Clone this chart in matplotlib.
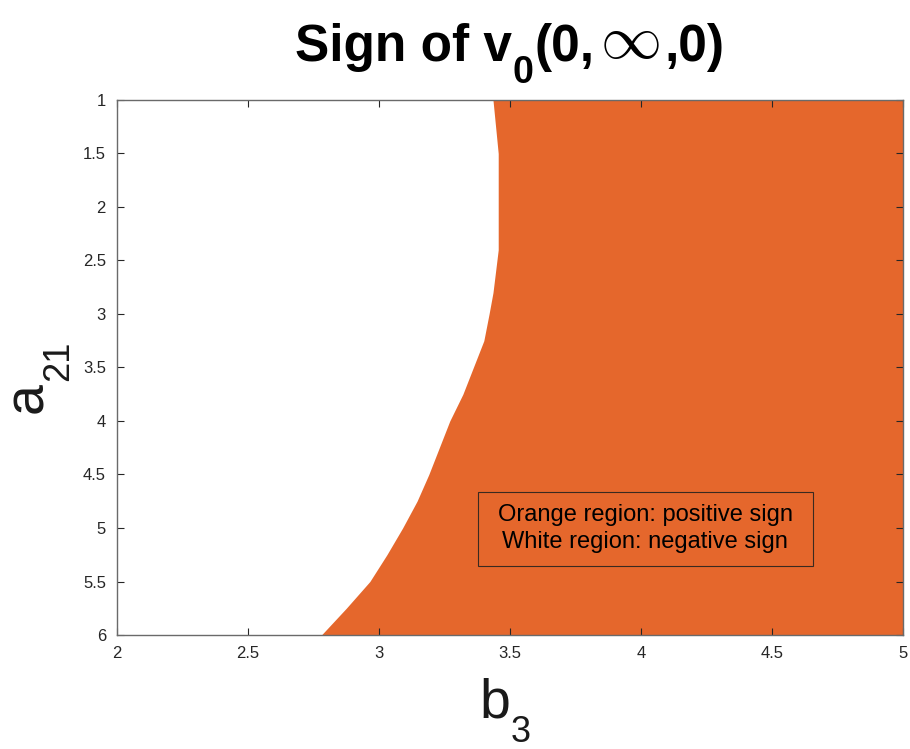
import numpy as np
import matplotlib.pyplot as plt
from matplotlib.patches import Rectangle
from matplotlib.ticker import FuncFormatter

plt.rcParams["font.family"] = ["Liberation Sans", "DejaVu Sans"]

# boundary of the positive region (a21 -> b3)
a21 = [1.0, 1.25, 1.5, 2.0, 2.4, 2.6, 2.8, 3.0, 3.25, 3.5, 3.75, 4.0,
       4.25, 4.5, 4.75, 5.0, 5.25, 5.5, 5.75, 6.0]
b3_edge = [3.435, 3.445, 3.455, 3.455, 3.455, 3.445, 3.435, 3.42, 3.40,
           3.36, 3.32, 3.27, 3.23, 3.19, 3.145, 3.09, 3.03, 2.965, 2.875, 2.78]
b3_max = 5.0

x_ticks = [2, 2.5, 3, 3.5, 4, 4.5, 5]
y_ticks = [1, 1.5, 2, 2.5, 3, 3.5, 4, 4.5, 5, 5.5, 6]

orange = "#E5672C"
tick_grey = "#262626"

fig = plt.figure(figsize=(9.1, 7.49), dpi=100)
ax = fig.add_axes([0.1286, 0.1522, 0.8637, 0.7143])

ax.fill_betweenx(a21, b3_edge, b3_max, color=orange, linewidth=0)

ax.set_xlim(2, 5)
ax.set_ylim(6, 1)
ax.set_xticks(x_ticks)
ax.set_yticks(y_ticks)
fmt = FuncFormatter(lambda v, p: f"{v:g}")
ax.xaxis.set_major_formatter(fmt)
ax.yaxis.set_major_formatter(fmt)
ax.tick_params(direction="in", length=5, width=0.8, colors=tick_grey,
               labelsize=12, top=True, right=True, pad=8)
for s in ax.spines.values():
    s.set_color("#6a6a6a")
    s.set_linewidth(1.0)

# title, pieced together so the subscript and infinity sit like the original
base = 749 - 61
t = ax.annotate("Sign of v", xy=(295, base), xycoords="figure pixels",
                fontsize=37, fontweight="bold", va="baseline")
t = ax.annotate("0", xy=(1, base - 22), xycoords=(t, "figure pixels"),
                xytext=(1, 0), textcoords="offset pixels",
                fontsize=27, fontweight="bold", va="baseline")
t = ax.annotate("(0,", xy=(1, base), xycoords=(t, "figure pixels"),
                xytext=(1, 0), textcoords="offset pixels",
                fontsize=37, fontweight="bold", va="baseline")
t = ax.annotate(r"$\infty$", xy=(1, base + 3), xycoords=(t, "figure pixels"),
                xytext=(5, 0), textcoords="offset pixels",
                fontsize=44, math_fontfamily="cm", va="baseline")
ax.annotate(",0)", xy=(1, base), xycoords=(t, "figure pixels"),
            xytext=(5, 0), textcoords="offset pixels",
            fontsize=37, fontweight="bold", va="baseline")

# x label b_3
t = ax.annotate("b", xy=(479, 749 - 717), xycoords="figure pixels",
                fontsize=40, color="#1a1a1a", va="baseline")
ax.annotate("3", xy=(1, 749 - 715), xycoords=(t, "figure pixels"),
            xytext=(1, 0), textcoords="offset pixels",
            fontsize=26, color="#1a1a1a", va="top")

# y label a_21
t = ax.annotate("a", xy=(42, 749 - 413), xycoords="figure pixels",
                fontsize=40, color="#1a1a1a", rotation=90,
                rotation_mode="anchor", ha="left", va="baseline")
ax.annotate("21", xy=(41, 1), xycoords=("figure pixels", t),
            xytext=(0, 1), textcoords="offset pixels",
            fontsize=26, color="#1a1a1a", rotation=90,
            rotation_mode="anchor", ha="left", va="top")

# note box
ax.add_patch(Rectangle((0.459, 0.129), 0.4265, 0.138, transform=ax.transAxes,
                       facecolor="none", edgecolor="#3a2a20", linewidth=0.8))
ax.text(0.672, 0.199, "Orange region: positive sign\nWhite region: negative sign",
        transform=ax.transAxes, ha="center", va="center", fontsize=17,
        color="black", linespacing=1.25)

fig.savefig("out.png", dpi=100)
